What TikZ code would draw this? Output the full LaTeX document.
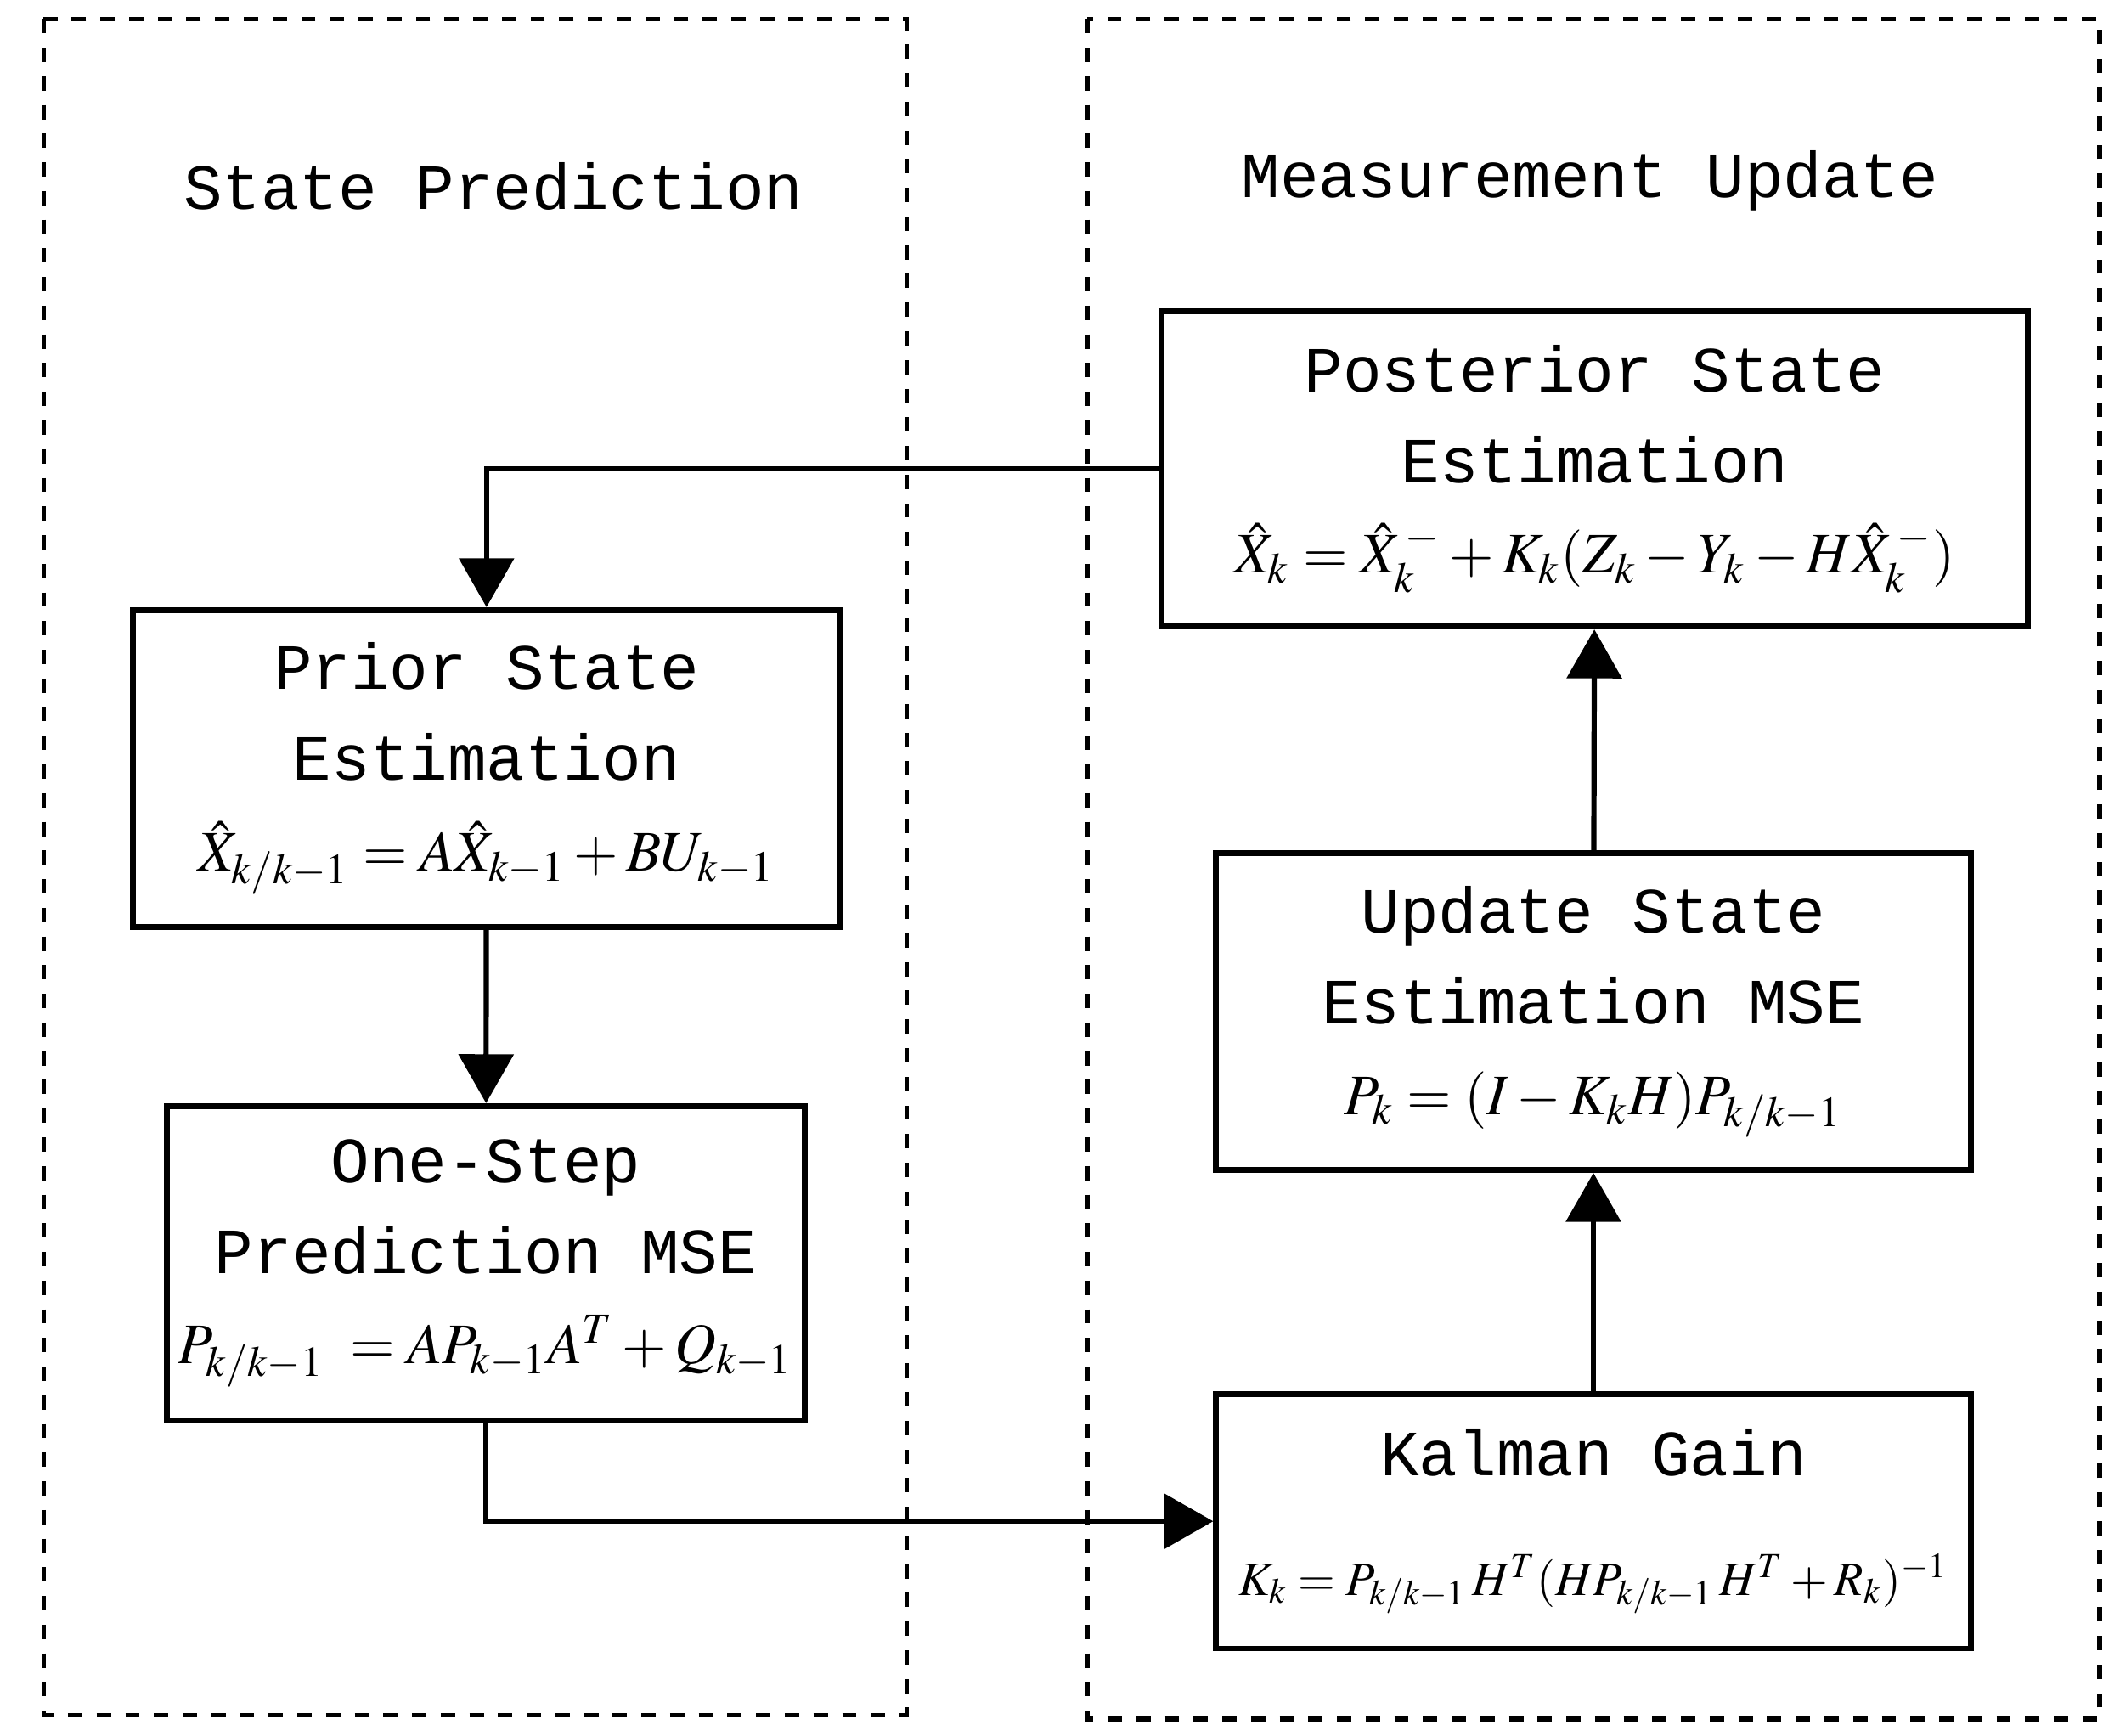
\documentclass[tikz,border=0pt]{standalone}
\usepackage{mathptmx}
\usepackage{fontspec}
\setmainfont{Liberation Mono}
\usetikzlibrary{arrows.meta}
\newcommand{\eqline}[1]{{\fontsize{12}{15}\selectfont$#1$}}
\tikzset{
  stage/.style={draw,line width=1.2pt,align=center,inner sep=0pt,
    font=\fontsize{13.5}{19}\selectfont},
  group/.style={draw,dashed,line width=0.9pt},
  flow/.style={line width=1.1pt,-{Triangle[length=0.36cm,width=0.4cm]}},
  title/.style={font=\fontsize{13.5}{19}\selectfont}
}
\begin{document}
\begin{tikzpicture}[x=0.01cm,y=0.01cm]
\useasboundingbox (0,0) rectangle (1560,-1277);
\draw[group] (32,-14) rectangle (667,-1262);
\draw[group] (800,-14) rectangle (1545,-1265);
\node[title] (t1) at (363,-137) {State Prediction};
\node[title] (t2) at (1170,-133) {Measurement Update};
\node[stage,minimum width=6.37cm,minimum height=2.32cm] (post) at (1173.5,-345)
  {Posterior State\\Estimation\\\eqline{\hat{X}_k=\hat{X}_k^{\,-}+K_k(Z_k-Y_k-H\hat{X}_k^{\,-})}};
\node[stage,minimum width=5.2cm,minimum height=2.33cm] (prior) at (358,-565.5)
  {Prior State\\Estimation\\\eqline{\hat{X}_{k/k-1}=A\hat{X}_{k-1}+BU_{k-1}}};
\node[stage,minimum width=4.69cm,minimum height=2.31cm] (mse) at (357.5,-929.5)
  {One-Step\\Prediction MSE\\\eqline{P_{k/k-1}\;=AP_{k-1}A^T+Q_{k-1}}};
\node[stage,minimum width=5.55cm,minimum height=2.33cm] (upd) at (1172.5,-744.5)
  {Update State\\Estimation MSE\\\eqline{P_k=(I-K_kH)P_{k/k-1}}};
\node[stage,minimum width=5.55cm,minimum height=1.87cm] (gain) at (1172.5,-1119.5)
  {Kalman Gain\\[6pt]{\fontsize{10}{12}\selectfont$K_k=P_{k/k-1}\,H^T(HP_{k/k-1}\,H^T+R_k)^{-1}$}};
\draw[flow] (post.west) -| (prior.north);
\draw[flow] (prior) -- (mse);
\draw[flow] (mse.south) |- (gain.west);
\draw[flow] (gain) -- (upd);
\draw[flow] (upd) -- (post);
\end{tikzpicture}
\end{document}
